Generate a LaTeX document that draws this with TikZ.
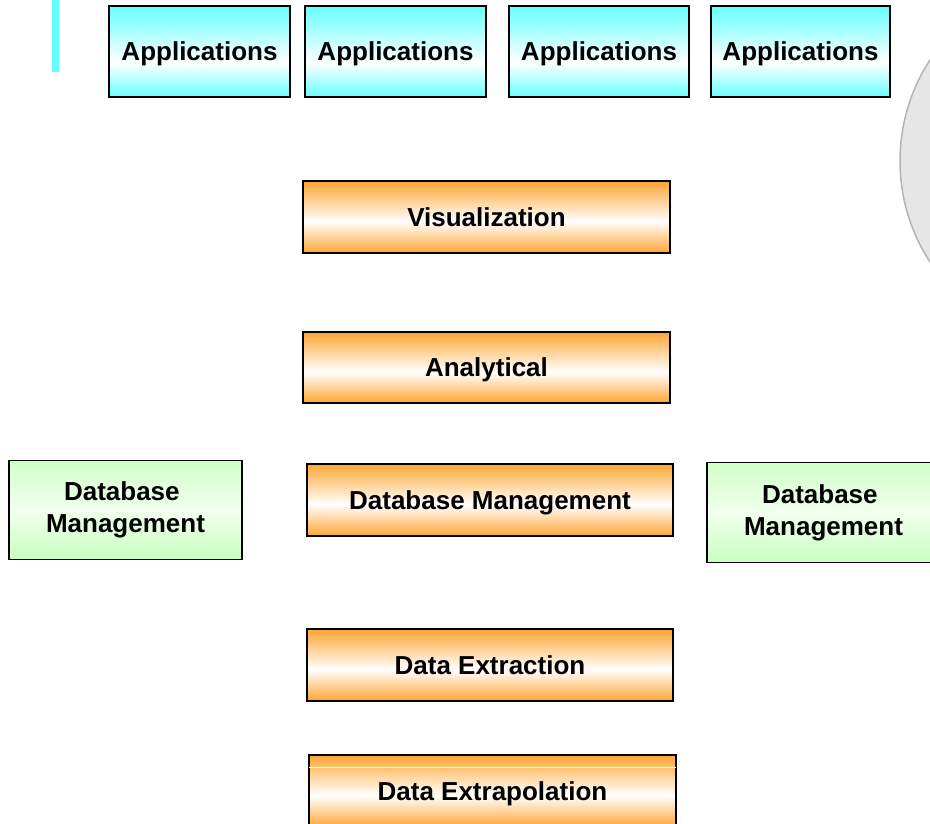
\documentclass[tikz,border=0pt]{standalone}
\usepackage{fontspec}
\setmainfont{Liberation Sans}
\usetikzlibrary{calc}
\definecolor{cyanC}{RGB}{102,255,255}
\definecolor{orangeC}{RGB}{255,166,51}
\definecolor{greenT}{RGB}{208,255,200}
\definecolor{greenM}{RGB}{242,255,238}
\definecolor{greenB}{RGB}{200,255,192}
\definecolor{circF}{RGB}{230,230,230}
\definecolor{circD}{RGB}{180,180,180}
\pgfdeclareverticalshading{cyansh}{100bp}{color(0bp)=(cyanC); color(25bp)=(cyanC); color(44bp)=(white); color(75bp)=(cyanC); color(100bp)=(cyanC)}
\pgfdeclareverticalshading{orangesh}{100bp}{color(0bp)=(orangeC); color(25bp)=(orangeC); color(47bp)=(white); color(75bp)=(orangeC); color(100bp)=(orangeC)}
\pgfdeclareverticalshading{greensh}{100bp}{color(0bp)=(greenB); color(25bp)=(greenB); color(50bp)=(greenM); color(75bp)=(greenT); color(100bp)=(greenT)}
\tikzset{
  box/.style={draw=black, line width=1.5pt, inner sep=0pt, align=center,
    font=\bfseries\fontsize{26}{32}\selectfont},
  onelinebox/.style={box, text height=18.6pt, text depth=0pt},
  appbox/.style={onelinebox, shading=cyansh, minimum height=91pt},
  layerbox/.style={onelinebox, shading=orangesh, minimum height=72pt},
  sidebox/.style={box, shading=greensh, minimum width=233pt},
}
\begin{document}
\begin{tikzpicture}[x=1pt,y=-1pt]
\useasboundingbox (0,0) rectangle (930,823);
\clip (0,0) rectangle (930,823);
% decorations
\fill[cyanC] (52,0) rectangle (59,72);
\draw[circD, fill=circF, line width=1.5pt] (1085,161) circle[radius=185pt];
% applications
\node[appbox, minimum width=181pt] (a1) at (199.5,51.5) {Applications};
\node[appbox, minimum width=181pt] (a2) at (395.5,51.5) {Applications};
\node[appbox, minimum width=180pt] (a3) at (599,51.5) {Applications};
\node[appbox, minimum width=179pt] (a4) at (800.5,51.5) {Applications};
% layers
\node[layerbox, minimum width=367pt] (vis) at (486.5,217) {Visualization};
\node[layerbox, minimum width=367pt, minimum height=71pt] (ana) at (486.5,367.5) {Analytical};
\node[layerbox, minimum width=366pt] (dbm) at (490,500) {Database Management};
\node[layerbox, minimum width=366pt] (dex) at (490,665) {Data Extraction};
\node[layerbox, minimum width=367pt] (dep) at (492.5,791) {Data Extrapolation};
\draw[white, line width=1pt] ($(dep.north west)+(1,13)$) -- ($(dep.north east)+(-1,13)$);
% side boxes
\node[sidebox, minimum height=99pt] (dl) at (125.5,510) {Database\hspace*{0.28em}\\Management};
\node[sidebox, minimum height=100pt] (dr) at (823.5,512.5) {Database\hspace*{0.28em}\\Management};
\end{tikzpicture}
\end{document}
